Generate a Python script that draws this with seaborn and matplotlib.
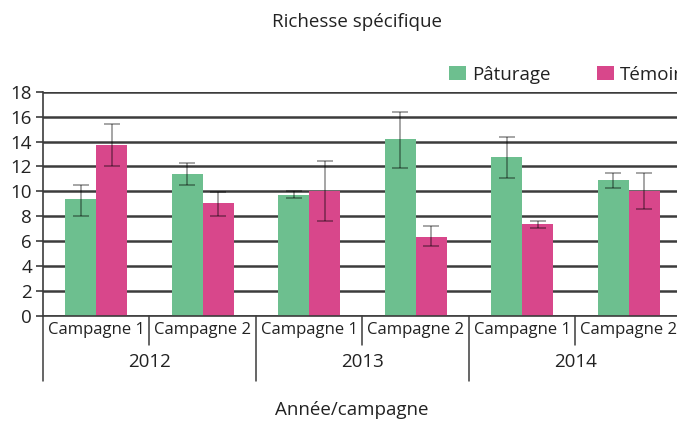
import matplotlib
matplotlib.use("Agg")
import matplotlib.pyplot as plt
import seaborn as sns
import pandas as pd
import numpy as np

# ---- data ----
years = ["2012", "2013", "2014"]
campaigns = ["Campagne 1", "Campagne 2"]
categories = ["2012-C1", "2012-C2", "2013-C1", "2013-C2", "2014-C1", "2014-C2"]
tick_labels = ["Campagne 1", "Campagne 2"] * 3
series = ["Pâturage", "Témoin"]

paturage = [9.35, 11.4, 9.75, 14.2, 12.75, 10.9]
paturage_low = [8.0, 10.5, 9.45, 11.9, 11.1, 10.25]
paturage_high = [10.5, 12.25, 10.0, 16.35, 14.35, 11.5]

temoin = [13.7, 9.05, 10.0, 6.3, 7.35, 10.05]
temoin_low = [12.0, 8.0, 7.65, 5.6, 7.05, 8.55]
temoin_high = [15.4, 9.95, 12.4, 7.2, 7.6, 11.45]

colors = ["#6dbf8f", "#d8478b"]

df = pd.DataFrame({
    "cat": categories * 2,
    "serie": [series[0]] * 6 + [series[1]] * 6,
    "val": paturage + temoin,
})
lows = [paturage_low, temoin_low]
highs = [paturage_high, temoin_high]

sns.set_theme(style="white")
plt.rcParams["font.family"] = ["Open Sans", "DejaVu Sans"]

W, H = 677, 421
fig = plt.figure(figsize=(W / 100, H / 100), dpi=100)
left_px, right_px, top_px, bottom_px = 43, 682, 91.7, 316
ax = fig.add_axes([left_px / W, 1 - bottom_px / H,
                   (right_px - left_px) / W, (bottom_px - top_px) / H])

sns.barplot(data=df, x="cat", y="val", hue="serie", order=categories,
            hue_order=series, palette=colors, width=0.58, gap=0,
            errorbar=None, ax=ax, saturation=1, linewidth=0)

# error bars
bar_containers = list(ax.containers)[:2]
for i, cont in enumerate(bar_containers):
    xs = [b.get_x() + b.get_width() / 2 for b in cont.patches]
    hs = [b.get_height() for b in cont.patches]
    yerr = [np.array(hs) - np.array(lows[i]), np.array(highs[i]) - np.array(hs)]
    ax.errorbar(xs, hs, yerr=yerr, fmt="none", ecolor="black", alpha=0.45,
                elinewidth=1.1, capsize=6, capthick=1.1, zorder=5)

ax.set_xlim(-0.5, 5.5)
ax.set_ylim(0, 18)
ax.set_yticks(np.arange(0, 19, 2))
ax.yaxis.grid(True, color="#3c3c3c", linewidth=1.8)
ax.set_axisbelow(True)
for s in ["top", "right"]:
    ax.spines[s].set_visible(False)
ax.spines["left"].set_color("#3c3c3c")
ax.spines["left"].set_linewidth(1.2)
ax.spines["bottom"].set_color("#3c3c3c")
ax.spines["bottom"].set_linewidth(1.2)

ax.tick_params(axis="y", left=True, length=5, width=1.2, color="#3c3c3c",
               labelsize=13.5, pad=3, labelcolor="#222222")
ax.set_xticks(range(6))
ax.set_xticklabels(tick_labels)
ax.tick_params(axis="x", bottom=False, length=0, labelsize=12, pad=4,
               labelcolor="#222222")
ax.set_xlabel("")
ax.set_ylabel("")

# separators below x-axis
tr = ax.get_xaxis_transform()
ax_h = bottom_px - top_px
for x in [0.5, 2.5, 4.5]:
    ax.plot([x, x], [0, -(345 - bottom_px) / ax_h], transform=tr,
            color="#3c3c3c", lw=1.1, clip_on=False)
for x in [-0.5, 1.5, 3.5, 5.5]:
    ax.plot([x, x], [0, -(381 - bottom_px) / ax_h], transform=tr,
            color="#3c3c3c", lw=1.1, clip_on=False)
for j, y in enumerate(years):
    ax.text(2 * j + 0.5, -(362 - bottom_px) / ax_h, y, transform=tr,
            ha="center", va="center", fontsize=13.5, color="#222222")

fig.text(357 / W, 1 - 22 / H, "Richesse spécifique", ha="center",
         va="center", fontsize=13.5, color="#222222")
fig.text(352 / W, 1 - 410 / H, "Année/campagne", ha="center",
         va="center", fontsize=13.5, color="#222222")

handles, labels = ax.get_legend_handles_labels()
ax.legend(handles, labels, loc="center left",
          bbox_to_anchor=(440 / W, 1 - 74.5 / H),
          bbox_transform=fig.transFigure, ncol=2, frameon=False,
          fontsize=13.5, borderpad=0, handlelength=0.87, handleheight=0.82,
          handletextpad=0.33, columnspacing=2.5, labelcolor="#222222")

fig.savefig("out.png", dpi=100)
